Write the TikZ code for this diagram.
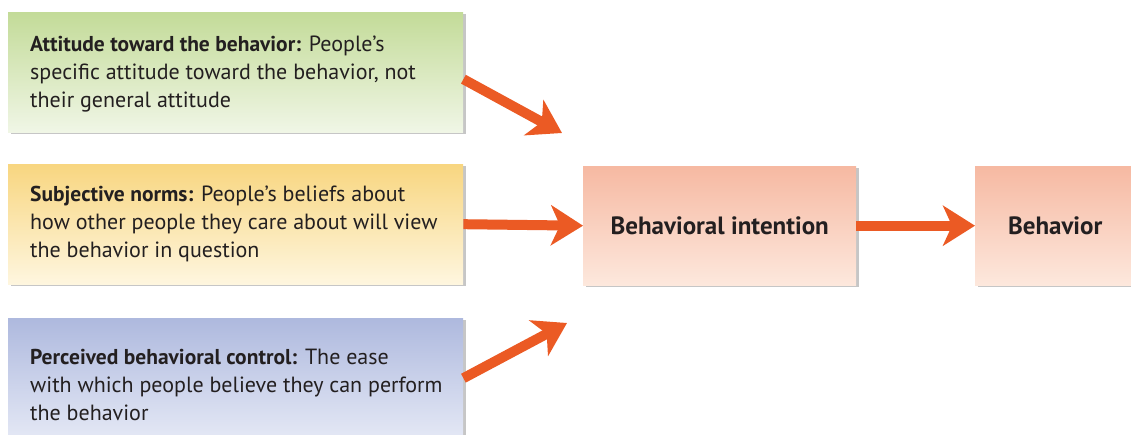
\documentclass[tikz,border=0pt]{standalone}
\usepackage{fontspec}
\setmainfont{PT Sans}
\usetikzlibrary{arrows.meta,shadows}
\definecolor{ink}{HTML}{231F20}
\definecolor{flowc}{HTML}{EB5A24}
\definecolor{greentop}{HTML}{C3DB98}
\definecolor{greenbot}{HTML}{F0F6E6}
\definecolor{yellowtop}{HTML}{F8D680}
\definecolor{yellowbot}{HTML}{FEF6DF}
\definecolor{bluetop}{HTML}{AEB9DE}
\definecolor{bluebot}{HTML}{E4E8F5}
\definecolor{pinktop}{HTML}{F6B9A2}
\definecolor{pinkbot}{HTML}{FDE8DD}
\newcommand{\lead}[1]{{\fontsize{21.5}{28}\selectfont\bfseries #1}}
\begin{document}
\begin{tikzpicture}[x=1pt,y=1pt]
			\tikzstyle{every node}+=[inner sep=0pt,text=ink,font=\fontsize{22}{28}\selectfont]
			\tikzstyle{factor}=[anchor=north west,minimum width=455pt,minimum height=120pt,drop shadow={shadow xshift=3pt,shadow yshift=-2pt,opacity=0.45}]
			\tikzstyle{blurb}=[anchor=west,align=left]
			\tikzstyle{outcome}=[anchor=north west,minimum height=119pt,align=center,font=\fontsize{25}{28}\selectfont\bfseries,top color=pinktop,bottom color=pinkbot,drop shadow={shadow xshift=3pt,shadow yshift=-2pt,opacity=0.45}]
			\tikzstyle{flow}=[line width=10pt,draw=flowc,-{Stealth[length=32pt,width=40pt,inset=9pt]}]
			\useasboundingbox (0,0) rectangle (1131,-435);
			% three factors
			\node [factor,top color=greentop,bottom color=greenbot] (att) at (8,-12) {};
			\node [blurb] (atttext) at ([xshift=22pt,yshift=-2pt]att.west) {\lead{Attitude toward the behavior:} People's\\specific attitude toward the behavior, not\\their general attitude};
			\node [factor,top color=yellowtop,bottom color=yellowbot] (norm) at (8,-164) {};
			\node [blurb] (normtext) at ([xshift=22pt]norm.west) {\lead{Subjective norms:} People's beliefs about\\how other people they care about will view\\the behavior in question};
			\node [factor,top color=bluetop,bottom color=bluebot] (ctrl) at (8,-318) {};
			\node [blurb] (ctrltext) at ([xshift=22pt,yshift=-7pt]ctrl.west) {\lead{Perceived behavioral control:} The ease\\with which people believe they can perform\\the behavior};
			% intention and behavior
			\node [outcome,minimum width=273pt] (intent) at (583,-166) {Behavioral intention};
			\node [outcome,minimum width=160pt] (behav) at (975,-166) {Behavior};
			\coordinate (t1) at (562,-133);
			\coordinate (t3) at (567,-323);
			\draw [flow] ([yshift=-7pt]att.east) -- (t1);
			\draw [flow] (norm.east) -- (intent.west);
			\draw [flow] (ctrl.east) -- (t3);
			\draw [flow] (intent.east) -- (behav.west);
			\end{tikzpicture}
\end{document}
